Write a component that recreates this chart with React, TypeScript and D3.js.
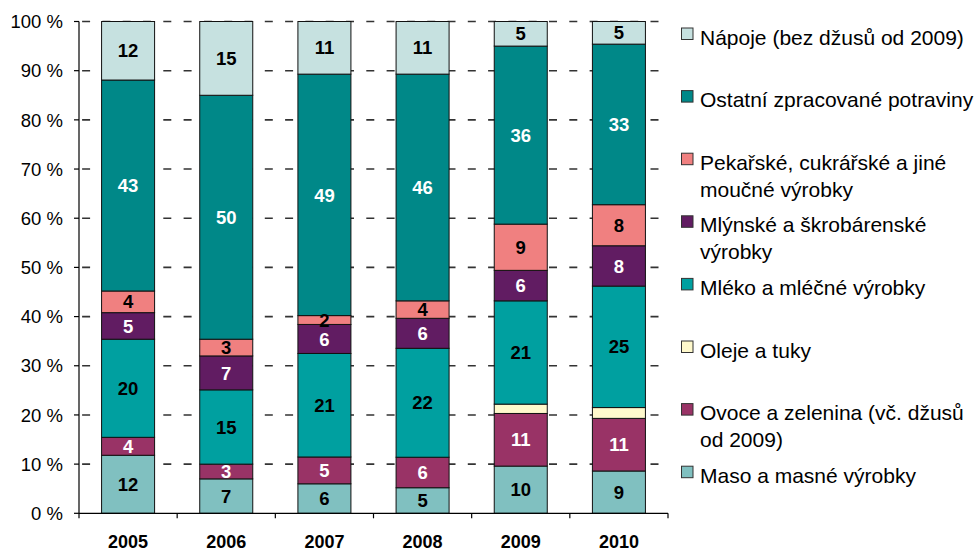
import * as d3 from "d3";

const years = ["2005", "2006", "2007", "2008", "2009", "2010"];

// stack order, bottom to top
const seriesKeys = ["maso", "ovoce", "oleje", "mleko", "mlynske", "pekarske", "ostatni", "napoje"];

const maso = [11.8, 7.0, 6.0, 5.2, 9.6, 8.6];
const ovoce = [3.65, 3.0, 5.45, 6.2, 10.7, 10.7];
const oleje = [0, 0, 0, 0, 1.9, 2.2];
const mleko = [19.95, 15.1, 21.05, 22.15, 21.0, 24.7];
const mlynske = [5.4, 6.9, 5.9, 6.1, 6.2, 8.2];
const pekarske = [4.4, 3.4, 1.8, 3.55, 9.4, 8.35];
const ostatni = [42.9, 49.6, 49.1, 46.1, 36.2, 32.65];
const napoje = [11.9, 15.0, 10.7, 10.7, 5.0, 4.6];

const seriesValues: Record<string, number[]> = { maso, ovoce, oleje, mleko, mlynske, pekarske, ostatni, napoje };

const legendLines: Record<string, string[]> = {
  napoje: ["Nápoje (bez džusů od 2009)"],
  ostatni: ["Ostatní zpracované potraviny"],
  pekarske: ["Pekařské, cukrářské a jiné", "moučné výrobky"],
  mlynske: ["Mlýnské a škrobárenské", "výrobky"],
  mleko: ["Mléko a mléčné výrobky"],
  oleje: ["Oleje a tuky"],
  ovoce: ["Ovoce a zelenina (vč. džusů", "od 2009)"],
  maso: ["Maso a masné výrobky"],
};

const colors: Record<string, string> = {
  maso: "#80c0c0",
  ovoce: "#993366",
  oleje: "#fff9cc",
  mleko: "#00a0a0",
  mlynske: "#611c62",
  pekarske: "#f08080",
  ostatni: "#008888",
  napoje: "#c6e1e0",
};

// label text colour per series, null = no labels
const labelColors: Record<string, string | null> = {
  maso: "#000",
  ovoce: "#fff",
  oleje: null,
  mleko: "#000",
  mlynske: "#fff",
  pekarske: "#000",
  ostatni: "#fff",
  napoje: "#000",
};

const yTicks = [0, 10, 20, 30, 40, 50, 60, 70, 80, 90, 100];

const width = 978;
const height = 551;
const left = 79;
const right = 668;
const top = 21.5;
const bottom = 513.3;
const font = "'Liberation Sans', Arial, sans-serif";

export default function App() {
  const rows = years.map((year, i) => {
    const row: any = { year };
    seriesKeys.forEach((k) => (row[k] = seriesValues[k][i]));
    return row;
  });

  const stacked = d3.stack().keys(seriesKeys).offset(d3.stackOffsetExpand)(rows);

  const x = d3.scaleBand().domain(years).range([left, right]).paddingInner(0.46).paddingOuter(0.23);
  const y = d3.scaleLinear().domain([0, 1]).range([bottom, top]);

  const step = x.step();
  const boundaries = d3.range(years.length + 1).map((i) => left + i * step);

  const legendOrder = [...seriesKeys].reverse();

  return (
    <svg width={width} height={height} style={{ position: "absolute", left: 0, top: 0, background: "#fff" }}>
      {/* gridlines */}
      {yTicks.slice(1).map((t) => (
        <line key={"g" + t} x1={left} x2={right} y1={y(t / 100)} y2={y(t / 100)} stroke="#333" strokeWidth={1.6} strokeDasharray="8 12.3" strokeDashoffset={-3.1} />
      ))}

      {/* bars */}
      {stacked.map((layer) =>
        layer.map((d, i) => {
          const h = y(d[0]) - y(d[1]);
          if (h <= 0) return null;
          return (
            <rect key={layer.key + i} x={x(years[i])} y={y(d[1])} width={x.bandwidth()} height={h} fill={colors[layer.key]} stroke="#111" strokeWidth={1} />
          );
        })
      )}

      {/* segment labels */}
      {stacked.map((layer) =>
        layer.map((d, i) => {
          const c = labelColors[layer.key];
          const v = seriesValues[layer.key][i];
          if (!c || v <= 0) return null;
          return (
            <text key={"l" + layer.key + i} x={(x(years[i]) as number) + x.bandwidth() / 2} y={(y(d[0]) + y(d[1])) / 2} dy="0.36em" textAnchor="middle" fontFamily={font} fontWeight="bold" fontSize={18.5} fill={c}>
              {Math.round(v)}
            </text>
          );
        })
      )}

      {/* y axis */}
      <line x1={left} x2={left} y1={top} y2={bottom} stroke="#000" strokeWidth={1.2} />
      {yTicks.map((t) => (
        <g key={"y" + t}>
          <line x1={left - 5} x2={left} y1={y(t / 100)} y2={y(t / 100)} stroke="#000" strokeWidth={1.2} />
          <text x={63} y={y(t / 100)} dy="0.36em" textAnchor="end" fontFamily={font} fontSize={18.5} fill="#000">
            {t} %
          </text>
        </g>
      ))}

      {/* x axis */}
      <line x1={left} x2={right} y1={bottom} y2={bottom} stroke="#000" strokeWidth={1.2} />
      {boundaries.map((bx, i) => (
        <line key={"xt" + i} x1={bx} x2={bx} y1={bottom} y2={bottom + 5} stroke="#000" strokeWidth={1.2} />
      ))}
      {years.map((yr) => (
        <text key={"x" + yr} x={(x(yr) as number) + x.bandwidth() / 2} y={547.5} textAnchor="middle" fontFamily={font} fontWeight="bold" fontSize={18} fill="#000">
          {yr}
        </text>
      ))}

      {/* legend */}
      {legendOrder.map((k, i) => {
        const base = 44.5 + i * 62.6;
        return (
          <g key={"lg" + k}>
            <rect x={681.5} y={base - 16.5} width={11.5} height={11.5} fill={colors[k]} stroke="#333" strokeWidth={1} />
            <text fontFamily={font} fontSize={21} fill="#000">
              {legendLines[k].map((line, j) => (
                <tspan key={j} x={700} y={base + j * 27}>
                  {line}
                </tspan>
              ))}
            </text>
          </g>
        );
      })}
    </svg>
  );
}
